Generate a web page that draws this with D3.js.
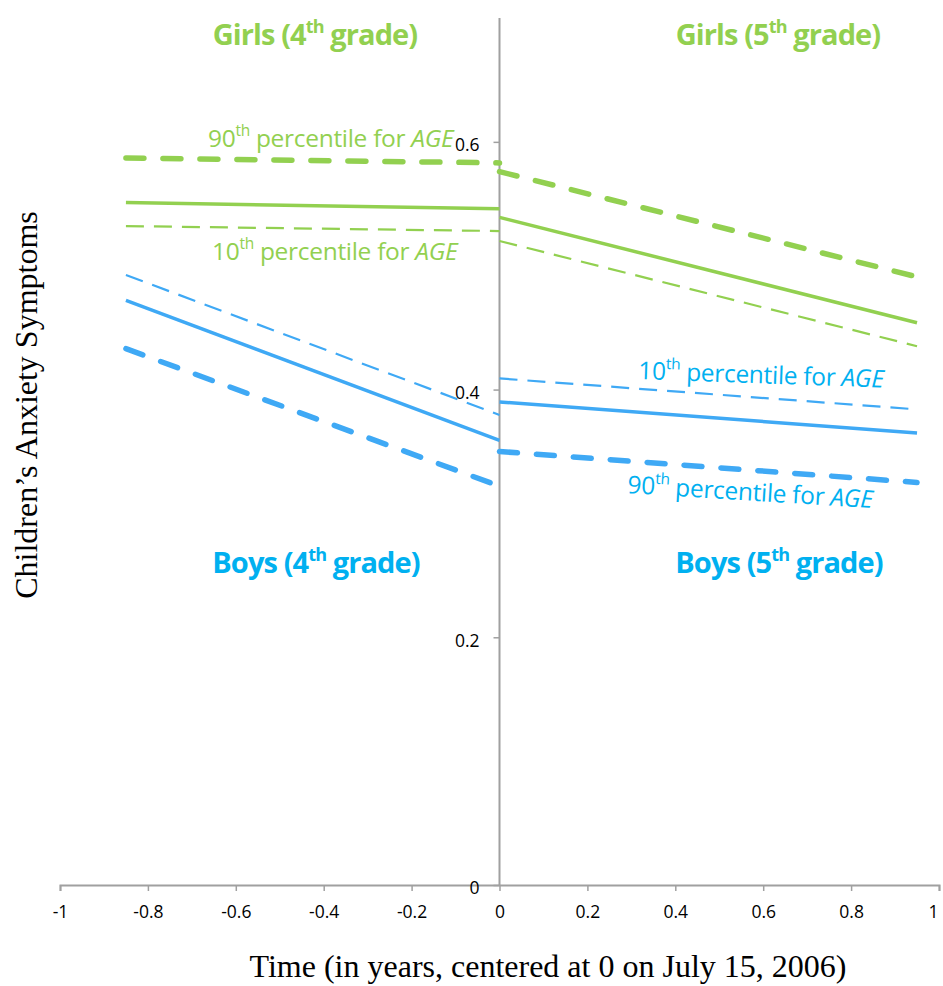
<!DOCTYPE html>
<html><head><meta charset="utf-8">
<script src="https://cdn.jsdelivr.net/npm/d3@7"></script>
<style>body{margin:0;background:#fff}</style>
</head><body>
<svg id="c" width="943" height="986"></svg>
<script>
// ---- data ----
const xTicks = [-1,-0.8,-0.6,-0.4,-0.2,0,0.2,0.4,0.6,0.8,1];
const yTicks = [0,0.2,0.4,0.6];
// segments: values at start and end of each span
const girls4 = { p90:[0.587,0.583], mean:[0.551,0.546], p10:[0.532,0.528] };
const girls5 = { p90:[0.576,0.491], mean:[0.539,0.454], p10:[0.520,0.435] };
const boys4  = { p90:[0.433,0.322], mean:[0.472,0.359], p10:[0.4925,0.3795] };
const boys5  = { p90:[0.350,0.325], mean:[0.390,0.365], p10:[0.409,0.384] };
const span4 = [-0.85, 0];
const span5 = [0, 0.95];

const GREEN = "#92d050", BLUE = "#3fa9f5", BLUETXT = "#00b0f0";
const svg = d3.select("#c");
const x = d3.scaleLinear().domain([-1,1]).range([60,939]);
const y = d3.scaleLinear().domain([0,0.7]).range([885,18]);

// axes
const xAxis = svg.append("g").attr("transform","translate(0,885)")
  .call(d3.axisBottom(x).tickValues(xTicks).tickSize(6).tickPadding(15).tickFormat(d=>String(d)));
const yAxis = svg.append("g").attr("transform",`translate(${x(0)},0)`)
  .call(d3.axisLeft(y).tickValues(yTicks).tickSize(6).tickPadding(14).tickFormat(d=>String(d)));
[xAxis,yAxis].forEach(g=>{
  g.attr("font-family","Open Sans, sans-serif").attr("font-size",17.5);
  g.select(".domain").attr("stroke","#a0a0a0").attr("stroke-width",2);
  g.selectAll(".tick line").attr("stroke","#a0a0a0").attr("stroke-width",1.5);
  g.selectAll(".tick text").attr("fill","#000");
});
xAxis.selectAll(".tick text").filter(d=>d===1).attr("text-anchor","end").attr("dx","-1");
yAxis.select(".domain").attr("d",`M0,${y(0.7)}V${y(0)}`);
yAxis.selectAll(".tick text").attr("dy","0.5em");

// lines
const line = d3.line().x(d=>x(d[0])).y(d=>y(d[1]));
const styles = {
  p90:{w:5.5, dash:"18 19", cap:"round"},
  mean:{w:3.5, dash:null, cap:"butt"},
  p10:{w:2.2, dash:"18 10", cap:"butt"}
};
function seg(data, span, color){
  Object.keys(styles).forEach(k=>{
    const s = styles[k];
    svg.append("path")
      .attr("d", line([[span[0],data[k][0]],[span[1],data[k][1]]]))
      .attr("fill","none").attr("stroke",color).attr("stroke-width",s.w)
      .attr("stroke-linecap",s.cap)
      .attr("stroke-dasharray",s.dash);
  });
}
seg(girls4, span4, GREEN);
seg(girls5, span5, GREEN);
seg(boys4, span4, BLUE);
seg(boys5, span5, BLUE);

// headings
function heading(xc, yb, name, grade, color){
  const t = svg.append("text").attr("x",xc).attr("y",yb).attr("text-anchor","middle")
    .attr("font-family","Open Sans, sans-serif").attr("font-weight","bold").attr("font-size",29)
    .attr("fill",color).attr("letter-spacing","-0.9");
  t.append("tspan").text(name+" ("+grade);
  t.append("tspan").attr("font-size",18).attr("dy",-12).text("th");
  t.append("tspan").attr("dy",12).text(" grade)");
}
heading(315, 45, "Girls", "4", GREEN);
heading(778, 45, "Girls", "5", GREEN);
heading(316, 573, "Boys", "4", BLUETXT);
heading(779, 573, "Boys", "5", BLUETXT);

function pct(xl, yb, num, color, angle){
  const t = svg.append("text").attr("x",xl).attr("y",yb)
    .attr("font-family","Open Sans, sans-serif").attr("font-size",24.5).attr("fill",color)
    .attr("letter-spacing","-0.3")
    .attr("transform", angle?`rotate(${angle},${xl},${yb})`:null);
  t.append("tspan").text(num);
  t.append("tspan").attr("font-size",15.5).attr("dy",-11).text("th");
  t.append("tspan").attr("dy",11).text(" percentile for ");
  t.append("tspan").attr("font-style","italic").text("AGE");
}
pct(208, 147, "90", GREEN, 0);
pct(212, 260, "10", GREEN, 0);
pct(638, 379, "10", BLUETXT, 2);
pct(627, 493, "90", BLUETXT, 3.5);

// axis titles
svg.append("text").attr("x",548).attr("y",977).attr("text-anchor","middle")
  .attr("font-family","Liberation Serif, Times New Roman, serif").attr("font-size",32)
  .text("Time (in years, centered at 0 on July 15, 2006)");
svg.append("text").attr("transform","translate(37,405) rotate(-90)").attr("text-anchor","middle")
  .attr("font-family","Liberation Serif, Times New Roman, serif").attr("font-size",32)
  .text("Children\u2019s Anxiety Symptoms");
</script>
</body></html>
